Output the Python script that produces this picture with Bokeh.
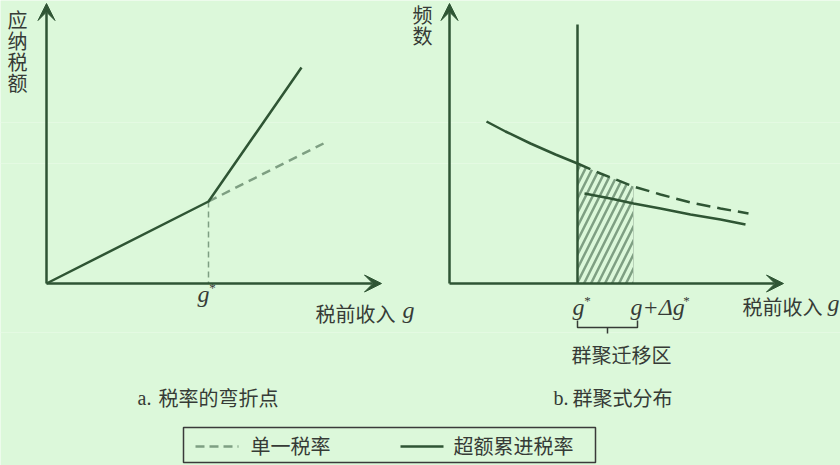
from bokeh.plotting import figure
from bokeh.models import Range1d, Arrow, VeeHead
from bokeh.core.properties import value
from bokeh.embed import file_html
from bokeh.resources import INLINE

# ---------------- data (diagram units = picture frame) ----------------
# Panel a: tax owed vs pre-tax income, kink at g*
prog_income = [46, 208, 301]
prog_tax = [283, 201, 67]
flat_income = [208, 323]
flat_tax = [201, 143]
kink_income = [208, 208]
kink_tax = [201, 283]

# Panel b: frequency distribution with bunching
dist_left_x = [486, 505, 530, 555, 577]
dist_left_y = [121, 131, 143, 154, 163]
dist_cf_x = [577, 600, 633, 660, 690, 720, 748]
dist_cf_y = [163, 173, 186, 194, 202, 208, 213]
dist_new_x = [584, 610, 633, 660, 690, 720, 745]
dist_new_y = [193, 198, 203, 208, 214, 219, 224]
kink_line_x = [577, 577]
kink_line_y = [24, 283]
bunch_x = [577, 600, 633, 633, 577]
bunch_y = [163, 173, 186, 283, 283]

# axes (origin, tip)
axes_a = dict(x0=46, y0=283, xtip=381, ytip=3)
axes_b = dict(x0=449, y0=283, xtip=783, ytip=3)

legend_labels = ["单一税率", "超额累进税率"]

BG = "#dcf8da"
DARK = "#2f5534"
DASHC = "#7e9f82"
TXT = "#363b36"
CJK = value("Noto Sans CJK SC")
SERIF = value("Liberation Serif")

p = figure(width=840, height=465, x_range=Range1d(0, 840), y_range=Range1d(465, 0),
           output_backend="svg", toolbar_location=None, min_border=0)
p.axis.visible = False
p.grid.visible = False
p.outline_line_color = None
p.background_fill_color = BG
p.border_fill_color = BG

# faint scan lines in the picture
for yy in [122, 163, 332]:
    p.line([0, 840], [yy, yy], line_color="#e4fae2", line_width=1)

# axes with arrow heads
for ax in (axes_a, axes_b):
    p.add_layout(Arrow(end=VeeHead(size=17, fill_color=DARK, line_color=DARK),
                       x_start=ax["x0"], y_start=ax["y0"], x_end=ax["x0"], y_end=ax["ytip"],
                       line_color=DARK, line_width=2.5))
    p.add_layout(Arrow(end=VeeHead(size=17, fill_color=DARK, line_color=DARK),
                       x_start=ax["x0"], y_start=ax["y0"], x_end=ax["xtip"], y_end=ax["y0"],
                       line_color=DARK, line_width=2.5))

# Panel a lines
p.line(kink_income, kink_tax, line_color=DASHC, line_width=1.5, line_dash="6 4")
p.line(flat_income, flat_tax, line_color=DASHC, line_width=2.5, line_dash="9 6")
p.line(prog_income, prog_tax, line_color=DARK, line_width=2.5)

# Panel b
p.patch(bunch_x, bunch_y, fill_color=None, line_color=None,
        hatch_pattern="/", hatch_color=DASHC, hatch_scale=14, hatch_weight=2.5)
p.line([633, 633], [186, 283], line_color="#b9d2b9", line_width=1)
p.line(dist_left_x, dist_left_y, line_color=DARK, line_width=2.5)
p.line(dist_cf_x, dist_cf_y, line_color=DARK, line_width=2.5, line_dash="14 7")
p.line(dist_new_x, dist_new_y, line_color=DARK, line_width=2.5)
p.line(kink_line_x, kink_line_y, line_color=DARK, line_width=2.5)

# brace
p.multi_line([[577, 577, 637, 637], [607, 607]], [[320, 327, 327, 320], [327, 333]],
             line_color=TXT, line_width=1.5)

# ---------------- texts ----------------
# vertical axis titles
p.text(x=[17] * 4, y=[19, 40, 61, 82], text=list("应纳税额"), text_font=CJK,
       text_font_size="20px", text_color=TXT, text_align="center", text_baseline="middle")
p.text(x=[422] * 2, y=[14, 35], text=list("频数"), text_font=CJK,
       text_font_size="20px", text_color=TXT, text_align="center", text_baseline="middle")

# x axis titles
p.text(x=[315, 742], y=[313, 306], text=["税前收入", "税前收入"], text_font=CJK,
       text_font_size="20px", text_color=TXT, text_align="left", text_baseline="middle")
p.text(x=[408, 833], y=[309, 302], text=["g", "g"], text_font=SERIF, text_font_style="italic",
       text_font_size="24px", text_color=TXT, text_align="center", text_baseline="middle")

# g* labels
p.text(x=[203, 578], y=[293, 306], text=["g", "g"], text_font=SERIF, text_font_style="italic",
       text_font_size="24px", text_color=TXT, text_align="center", text_baseline="middle")
p.text(x=[630], y=[306], text=["g+Δg"], text_font=SERIF, text_font_style="italic",
       text_font_size="24px", text_color=TXT, text_align="left", text_baseline="middle")
p.text(x=[212, 587, 686], y=[287, 300, 300], text=["*", "*", "*"], text_font=SERIF,
       text_font_size="13px", text_color=TXT, text_align="center", text_baseline="middle")

p.text(x=[621], y=[354], text=["群聚迁移区"], text_font=CJK, text_font_size="20px",
       text_color=TXT, text_align="center", text_baseline="middle")

# panel captions
p.text(x=[137, 553], y=[397, 397], text=["a.", "b."], text_font=SERIF, text_font_size="20px",
       text_color=TXT, text_align="left", text_baseline="middle")
p.text(x=[158, 572], y=[397, 397], text=["税率的弯折点", "群聚式分布"], text_font=CJK,
       text_font_size="20px", text_color=TXT, text_align="left", text_baseline="middle")

# legend
p.quad(left=[183], right=[595], top=[427], bottom=[462], fill_color=None,
       line_color="#3a3a3a", line_width=1.5)
p.line([195, 238], [446, 446], line_color=DASHC, line_width=2.5, line_dash="9 5")
p.line([400, 443], [446, 446], line_color=DARK, line_width=2.5)
p.text(x=[250, 453], y=[445, 445], text=legend_labels, text_font=CJK, text_font_size="20px",
       text_color=TXT, text_align="left", text_baseline="middle")

open("out.html", "w").write(file_html(p, INLINE))
